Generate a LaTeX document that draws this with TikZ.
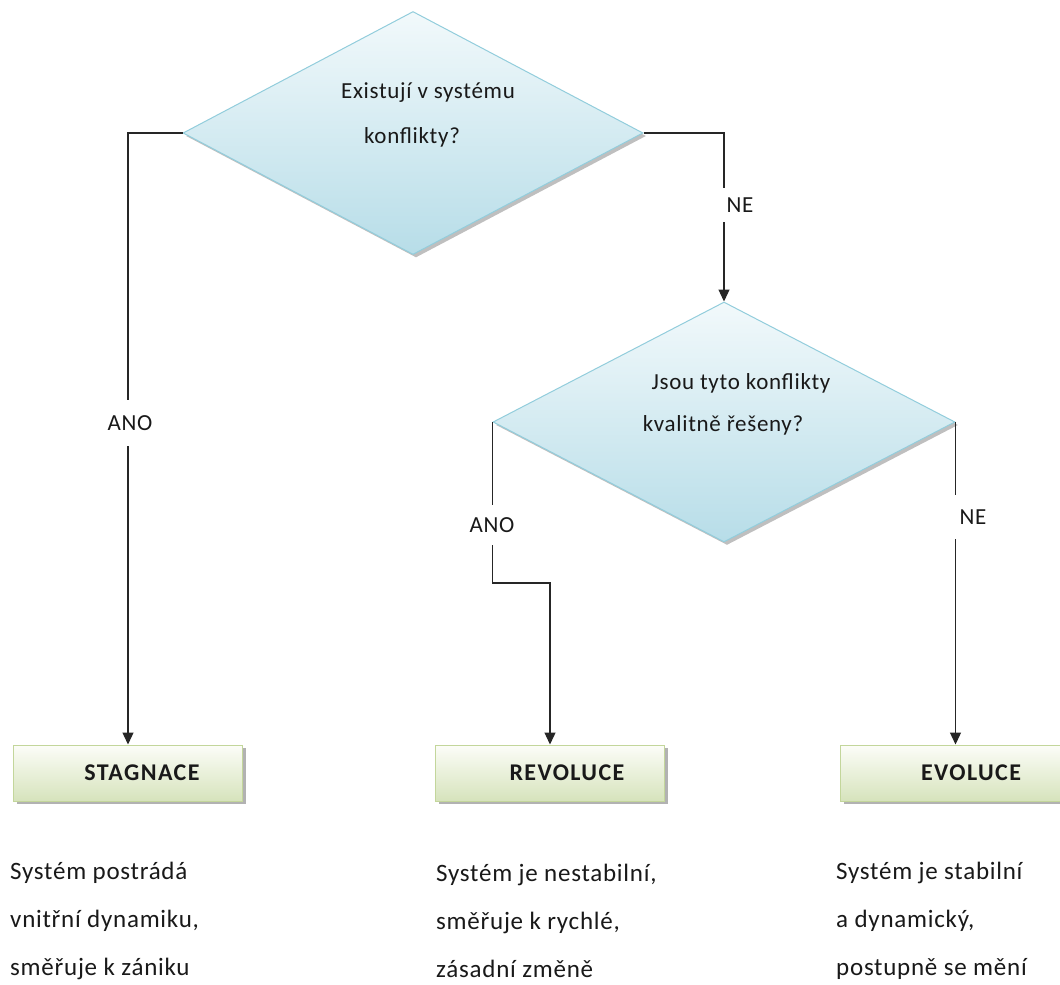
\documentclass[tikz,border=0pt]{standalone}
\usepackage{fontspec}
\setmainfont[LetterSpace=3]{Carlito}
\usetikzlibrary{shapes.geometric,arrows.meta,shadows}

\definecolor{dtop}{RGB}{242,249,251}
\definecolor{dbot}{RGB}{183,221,232}
\definecolor{dline}{RGB}{146,205,220}
\definecolor{btop}{RGB}{252,253,248}
\definecolor{bbot}{RGB}{214,227,188}
\definecolor{bline}{RGB}{195,214,155}

\tikzset{
  txt/.style={font=\fontsize{23}{28}\selectfont, inner sep=0pt, text=black!90},
  decision/.style={diamond, draw=dline, line width=1pt, inner sep=0pt,
    top color=dtop, bottom color=dbot,
    drop shadow={shadow xshift=3pt, shadow yshift=-3pt, fill=black, opacity=0.25}},
  outcome/.style={rectangle, draw=bline, line width=1pt, inner sep=0pt,
    minimum width=229pt, minimum height=56pt,
    top color=btop, bottom color=bbot,
    font=\fontsize{24}{28}\selectfont\bfseries\addfontfeatures{LetterSpace=6},
    text=black!90,
    drop shadow={shadow xshift=3pt, shadow yshift=-3pt, fill=black, opacity=0.3}},
  conn/.style={line width=1.3pt, draw=black!85, -{Triangle[width=11pt,length=12pt]}},
  lbl/.style={txt, fill=white, inner xsep=8pt},
  desc/.style={font=\fontsize{25}{48}\selectfont, align=left, inner sep=0pt,
    text=black!90, anchor=west},
}

\begin{document}
\begin{tikzpicture}[x=1pt, y=-1pt]
\useasboundingbox[fill=white] (0,0) rectangle (1060,985);

% decisions
\node[decision, minimum width=460pt, minimum height=243pt] (q1) at (413,133) {};
\node[txt] (q1a) at (428,93) {Existují v systému};
\node[txt] (q1b) at (412,137) {konflikty?};

\node[decision, minimum width=462pt, minimum height=240pt] (q2) at (724,422) {};
\node[txt] (q2a) at (741,383) {Jsou tyto konflikty};
\node[txt] (q2b) at (723,425) {kvalitně řešeny?};

% outcomes
\node[outcome] (stag) at (128,773) {\hspace*{28pt}STAGNACE};
\node[outcome] (rev) at (550,773) {\hspace*{34pt}REVOLUCE};
\node[outcome] (evo) at (955,773) {\hspace*{32pt}EVOLUCE};

% connectors
\draw[conn] (q1.west) -| (stag.north);
\draw[conn] (q1.east) -| (q2.north);
\coordinate (bend) at ([yshift=-161pt]q2.west);
\draw[conn] (q2.west) -- (bend) -| (rev.north);
\draw[conn] (q2.east) -- (q2.east |- evo.north);

% branch labels
\node[lbl, minimum height=46pt] (yes1) at (130,423) {ANO};
\node[lbl, minimum height=40pt] (yes2) at (492,525) {ANO};
\node[lbl, minimum height=34pt] (no1) at (740,205) {NE};
\node[lbl, minimum height=44pt] (no2) at (973,517) {NE};

% descriptions
\node[desc] (dstag) at (10,921) {Systém postrádá\\vnitřní dynamiku,\\směřuje k zániku};
\node[desc] (drev) at (436,921) {Systém je nestabilní,\\směřuje k rychlé,\\zásadní změně};
\node[desc] (devo) at (836,921) {Systém je stabilní\\a dynamický,\\postupně se mění};
\end{tikzpicture}
\end{document}
